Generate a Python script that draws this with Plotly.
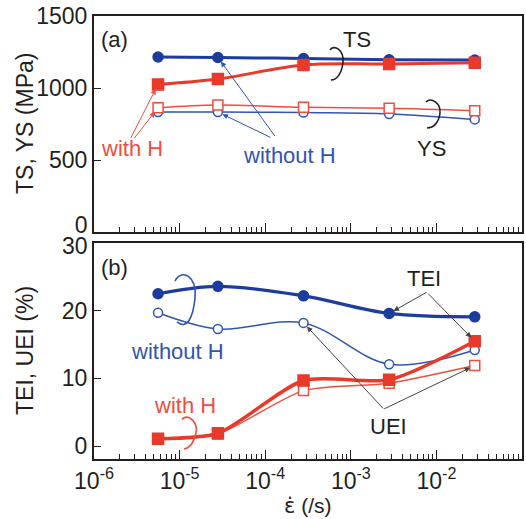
import math
import plotly.graph_objects as go

# ---------------- data ----------------
rate = [5.6e-6, 2.8e-5, 2.8e-4, 2.8e-3, 2.8e-2]          # strain rate (/s)
ts_without = [1215, 1212, 1205, 1196, 1194]               # MPa
ts_with = [1025, 1062, 1160, 1167, 1175]
ys_without = [833, 833, 829, 820, 782]
ys_with = [863, 882, 866, 859, 842]
tei_without = [22.5, 23.6, 22.2, 19.6, 19.1]              # %
uei_without = [19.7, 17.3, 18.2, 12.1, 14.2]
tei_with = [1.1, 1.9, 9.7, 9.8, 15.5]
uei_with = [1.0, 1.8, 8.2, 9.3, 11.9]

x_tickvals = [1e-6, 1e-5, 1e-4, 1e-3, 1e-2]
x_ticktext = ["10<sup>-6</sup>", "10<sup>-5</sup>", "10<sup>-4</sup>", "10<sup>-3</sup>", "10<sup>-2</sup>"]
y1_ticks = [0, 500, 1000, 1500]
y2_ticks = [0, 10, 20, 30]

# ---------------- styling ----------------
BLUE = "#1c3c9e"
BLUE_L = "#3055b5"
RED = "#e8392b"
RED_L = "#ef4d3e"
INK = "#231f20"
FONT = "Liberation Sans, Arial, sans-serif"

FIG_W, FIG_H = 526, 519
PLOT_L, PLOT_R, PLOT_T, PLOT_B = 94, 522, 16, 459        # pixels of plot area
PW, PH = PLOT_R - PLOT_L, PLOT_B - PLOT_T
ML, MT = PLOT_L, PLOT_T
MR = FIG_W - PLOT_R
MB = FIG_H - PLOT_B
TOP_BOTTOM_PX, BOT_TOP_PX = 232, 243                      # panel borders (px)
Y1_RANGE = [0, 1500]
Y2_RANGE = [-1.9, 30]


def px(x):
    return (x - PLOT_L) / PW


def py(y):
    return (PLOT_B - y) / PH


fig = go.Figure()


def add(x, y, xa, ya, color, width, symbol, size, fill, name, smooth=1.0):
    fig.add_trace(go.Scatter(
        x=x, y=y, xaxis=xa, yaxis=ya, mode="lines+markers", name=name,
        line=dict(color=color, width=width, shape="spline", smoothing=smooth),
        marker=dict(symbol=symbol, size=size, color=fill,
                    line=dict(color=color, width=1.5)),
        showlegend=False, hoverinfo="skip"))


# top panel
add(rate, ys_without, "x", "y", BLUE_L, 1.5, "circle", 9, "white", "YS without H")
add(rate, ys_with, "x", "y", RED_L, 1.5, "square", 10, "white", "YS with H")
add(rate, ts_without, "x", "y", BLUE, 3, "circle", 10, BLUE, "TS without H")
add(rate, ts_with, "x", "y", RED, 3, "square", 11, RED, "TS with H")
# bottom panel
add(rate, uei_without, "x2", "y2", BLUE_L, 1.5, "circle", 9, "white", "UEI without H")
add(rate, tei_without, "x2", "y2", BLUE, 3.2, "circle", 10, BLUE, "TEI without H")
add(rate, uei_with, "x2", "y2", RED_L, 1.5, "square", 10, "white", "UEI with H", 0.7)
add(rate, tei_with, "x2", "y2", RED, 3.5, "square", 11, RED, "TEI with H", 0.7)

minor_vals = [m * 10 ** e for e in range(-6, -1) for m in range(2, 10)]

TICKFONT = dict(family=FONT, size=23, color=INK)
xcommon = dict(
    type="log", range=[-6, -1.001], showline=True, linecolor=INK, linewidth=2,
    mirror=True, ticks="inside", ticklen=9, tickwidth=1.3, tickcolor=INK,
    tickmode="array", tickvals=x_tickvals, ticktext=x_ticktext,
    minor=dict(tickmode="array", tickvals=minor_vals, ticks="inside", ticklen=5,
               tickwidth=1.3, tickcolor=INK, showgrid=False),
    showgrid=False, zeroline=False, tickfont=TICKFONT,
)
ycommon = dict(
    showline=True, linecolor=INK, linewidth=2, mirror=True, ticks="inside",
    ticklen=7, tickwidth=1.3, tickcolor=INK, showgrid=False, zeroline=False,
    tickfont=TICKFONT, tickmode="array", ticklabeloverflow="allow",
)

y1_main = [v for v in y1_ticks if v != y1_ticks[0]]
y2_main = [v for v in y2_ticks if v != y2_ticks[-1]]

fig.update_layout(
    width=FIG_W, height=FIG_H, margin=dict(l=ML, r=MR, t=MT, b=MB, autoexpand=False),
    paper_bgcolor="white", plot_bgcolor="white",
    font=dict(family=FONT, color=INK),
    xaxis=dict(xcommon, domain=[0, 1], anchor="y", showticklabels=False, matches="x2"),
    yaxis=dict(ycommon, domain=[py(TOP_BOTTOM_PX), 1], anchor="x", range=Y1_RANGE,
               tickvals=y1_ticks, ticktext=["" if v not in y1_main else str(v) for v in y1_ticks]),
    xaxis2=dict(xcommon, domain=[0, 1], anchor="y2"),
    yaxis2=dict(ycommon, domain=[0, py(BOT_TOP_PX)], anchor="x2", range=Y2_RANGE,
                tickvals=y2_ticks, ticktext=["" if v not in y2_main else str(v) for v in y2_ticks]),
)

# border tick labels (top "0", bottom "30") drawn nudged apart, as in the original;
# a trailing no-break space keeps them clear of the axis line like the other labels
NBSP = "\u00a0"
per_px_1 = (Y1_RANGE[1] - Y1_RANGE[0]) / (TOP_BOTTOM_PX - PLOT_T)
per_px_2 = (Y2_RANGE[1] - Y2_RANGE[0]) / (PLOT_B - BOT_TOP_PX)
fig.add_trace(go.Scatter(x=[x_tickvals[0]], y=[y1_ticks[0] + 5 * per_px_1], xaxis="x", yaxis="y",
                         mode="text", text=[str(y1_ticks[0]) + NBSP], textposition="middle left",
                         textfont=TICKFONT, cliponaxis=False, showlegend=False, hoverinfo="skip"))
fig.add_trace(go.Scatter(x=[x_tickvals[0]], y=[y2_ticks[-1] - 5 * per_px_2], xaxis="x2", yaxis="y2",
                         mode="text", text=[str(y2_ticks[-1]) + NBSP], textposition="middle left",
                         textfont=TICKFONT, cliponaxis=False, showlegend=False, hoverinfo="skip"))


# ---------------- text labels ----------------
def label(text, x, y, color=INK, size=22, angle=0, xanchor="center", yanchor="middle"):
    fig.add_annotation(text=text, x=px(x), y=py(y), xref="paper", yref="paper",
                       showarrow=False, font=dict(family=FONT, size=size, color=color),
                       xanchor=xanchor, yanchor=yanchor, textangle=angle)


# axis titles
label("TS, YS (MPa)", 25, 124, size=23, angle=-90)
label("TEI, UEI (%)", 25, 351, size=23, angle=-90)
label('<span style="font-family:DejaVu Sans">ε̇</span> (/s)', 308, 506, size=21)

label("(a)", 114, 40)
label("TS", 357, 40)
label("YS", 431, 148)
label("with H", 132, 148, RED_L)
label("without H", 289, 155, BLUE_L)
label("(b)", 114, 267)
label("TEI", 424, 278)
label("UEI", 388, 426)
label("without H", 177, 351, BLUE_L)
label("with H", 185, 405, RED_L)


# ---------------- arrows ----------------
def arrow(xv, yv, xa, ya, ax, ay, color, head=2):
    fig.add_annotation(x=math.log10(xv), y=yv, xref=xa, yref=ya, text="",
                       showarrow=True, ax=ax, ay=ay, arrowhead=head, arrowsize=1.1,
                       arrowwidth=1, arrowcolor=color, standoff=5)


arrow(rate[0], ts_with[0], "x", "y", -28, 55, RED_L)
arrow(rate[0], ys_with[0], "x", "y", -25, 32, RED_L)
arrow(rate[1], ts_without[1], "x", "y", 58, 80, BLUE_L)
arrow(rate[1], ys_without[1], "x", "y", 54, 26, BLUE_L)
arrow(rate[3], tei_without[3], "x2", "y2", 39, -22, "#444")
arrow(rate[4], tei_with[4], "x2", "y2", -48, -49, "#444")
arrow(rate[2], uei_without[2], "x2", "y2", 81, 87, "#444")
arrow(rate[4], uei_with[4], "x2", "y2", -92, 44, "#444")


# ---------------- bracket marks ----------------
def curve(pts, color, width=1.6):
    s = "M {:.4f},{:.4f}".format(px(pts[0][0]), py(pts[0][1]))
    for i in range(1, len(pts), 3):
        s += " C " + " ".join("{:.4f},{:.4f}".format(px(a), py(b)) for a, b in pts[i:i + 3])
    fig.add_shape(type="path", path=s, xref="paper", yref="paper",
                  line=dict(color=color, width=width))


curve([(330, 50), (334, 44), (344, 50), (343, 62), (342, 73), (337, 80), (331, 80)], INK)
curve([(426, 102), (431, 97), (441, 103), (440, 113), (439, 122), (434, 128), (427, 128)], INK)
curve([(175, 281), (182, 268), (197, 276), (195, 298), (193, 318), (187, 330), (177, 322)], BLUE_L)
curve([(182, 419), (190, 413), (198, 424), (196, 433), (194, 442), (190, 448), (184, 449)], RED_L)

# remove the default 8px page margin so the figure fills the window exactly
fig.write_html("out.html", config={"displayModeBar": False},
               post_script="document.body.style.margin='0px';")
